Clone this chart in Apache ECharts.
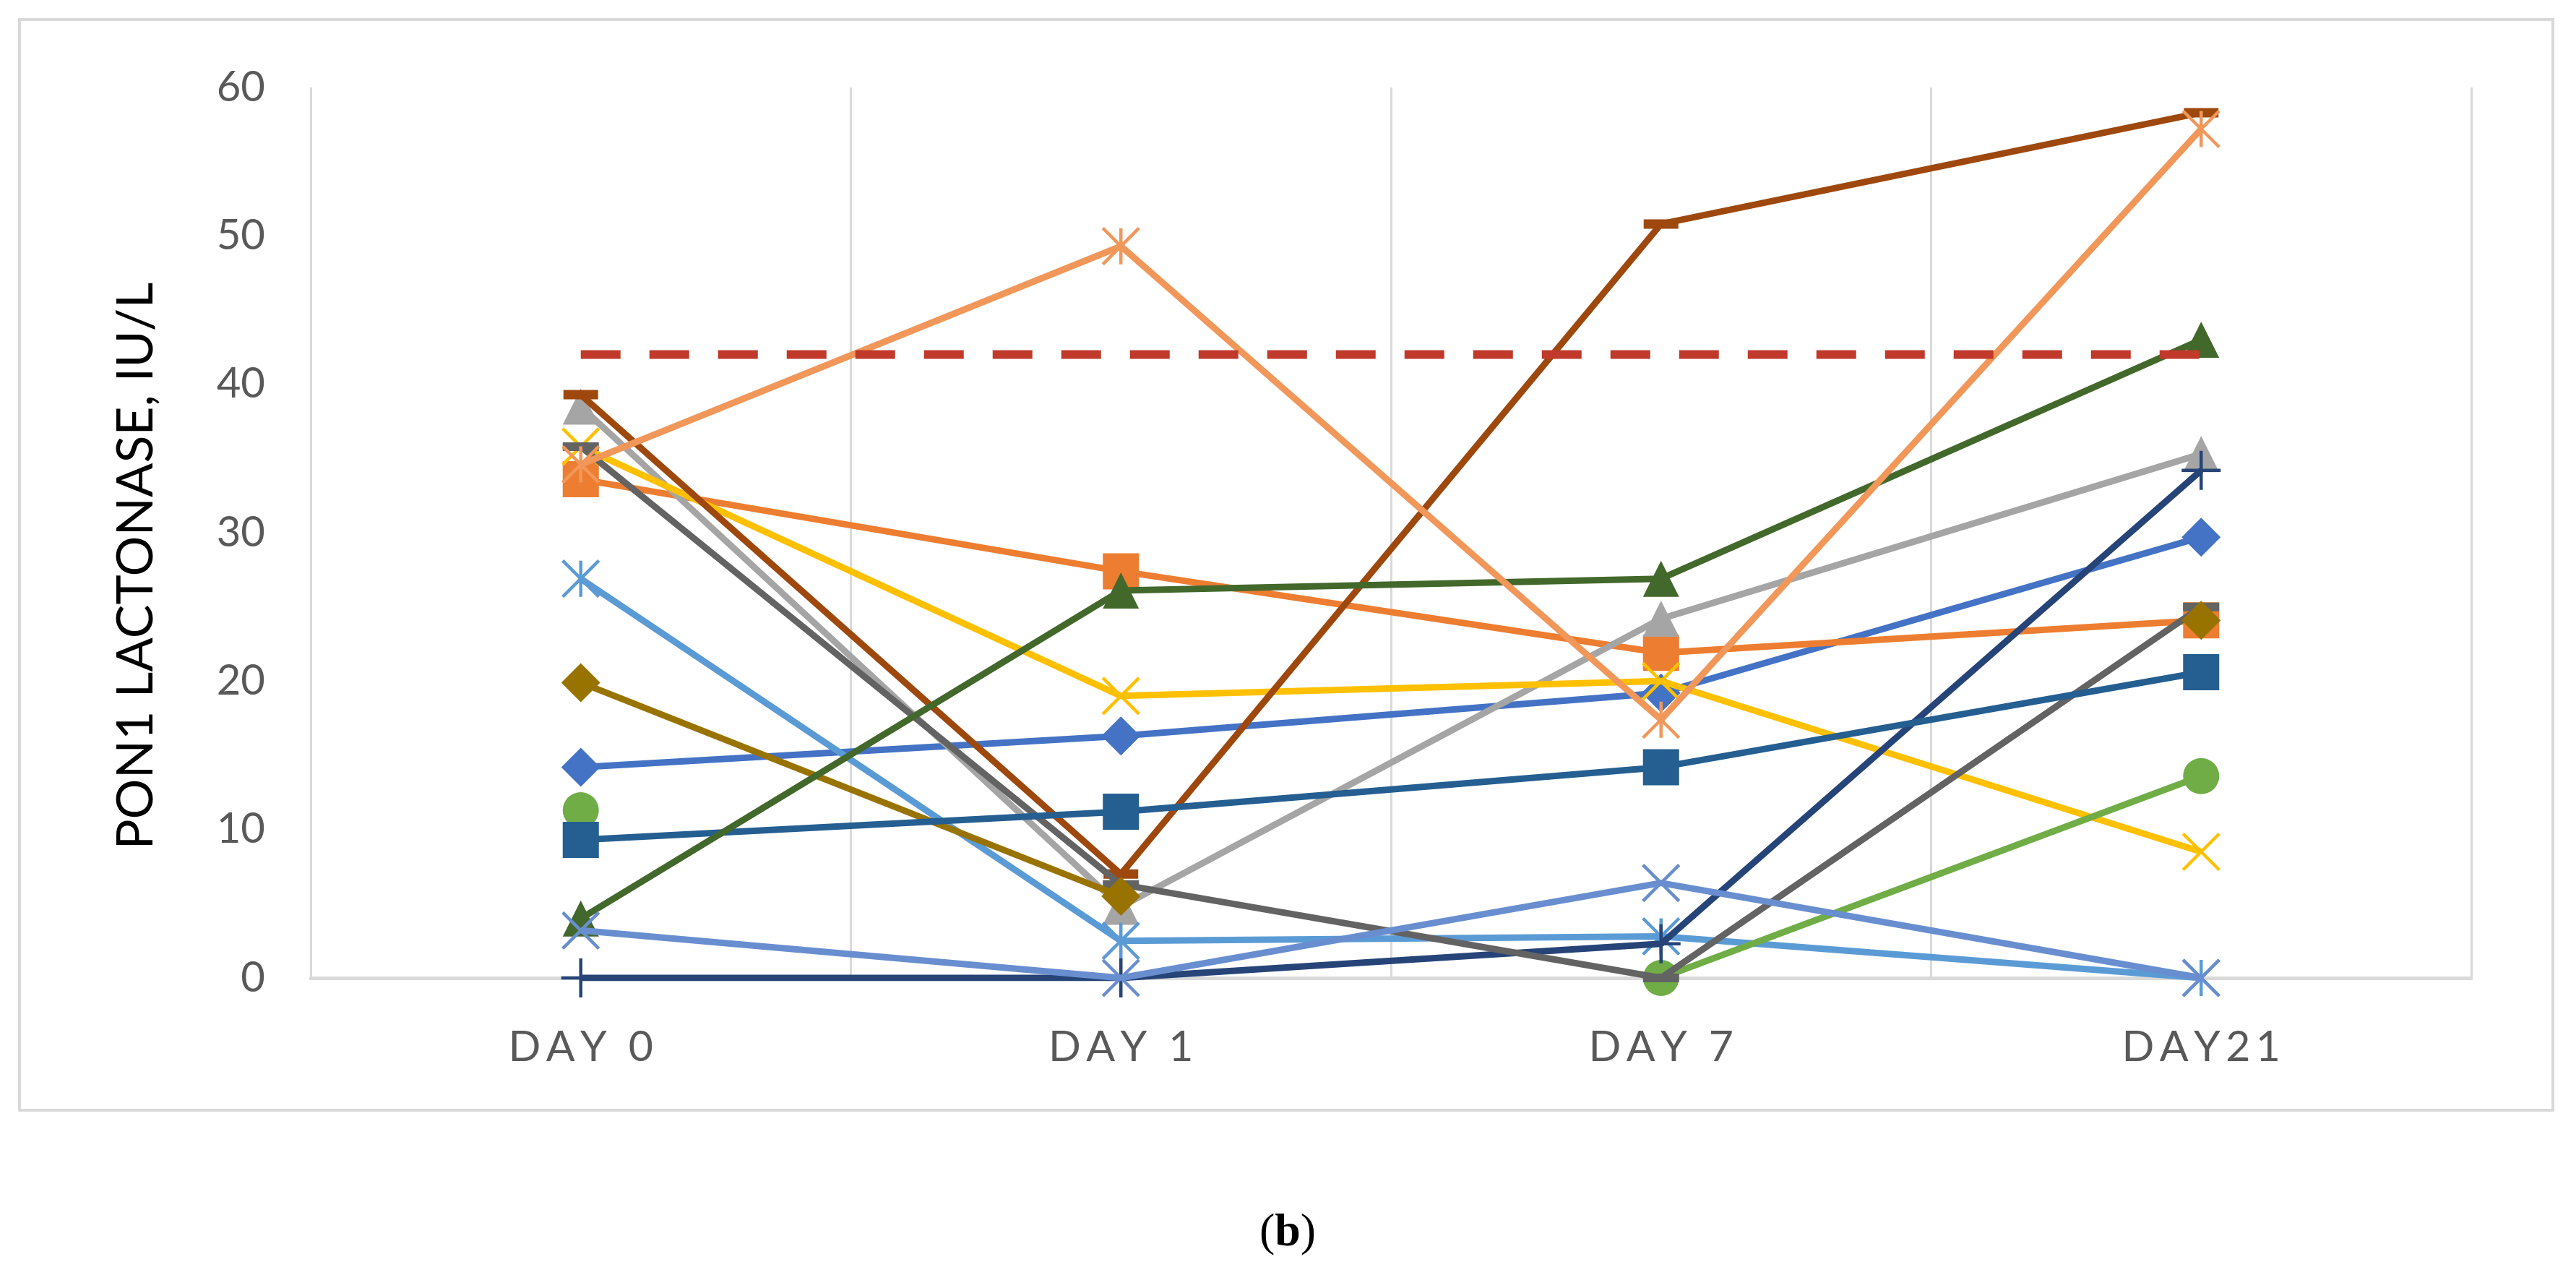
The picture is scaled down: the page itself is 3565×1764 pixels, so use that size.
<!DOCTYPE html>
<html>
<head>
<meta charset="utf-8">
<title>PON1 lactonase</title>
<script src="https://cdn.jsdelivr.net/npm/echarts@6/dist/echarts.min.js"></script>
<style>
  html, body { margin: 0; padding: 0; background: #fff; }
  #chart { width: 3565px; height: 1764px; }
</style>
</head>
<body>
<div id="chart"></div>
<script>
// categories
var days = ['DAY 0', 'DAY 1', 'DAY 7', 'DAY21'];

var p1  = [14.2, 16.3, 19.2, 29.7];
var p2  = [33.6, 27.4, 21.9, 24.1];
var p3  = [38.5, 4.8, 24.2, 35.3];
var p4  = [35.8, 19.0, 20.0, 8.5];
var p5  = [26.9, 2.5, 2.8, 0];
var p6  = [11.3, null, 0, 13.6];
var p7  = [0, 0, 2.3, 34.2];
var p8  = [39.3, 7.0, 50.8, 58.3];
var p9  = [35.8, 6.3, 0, 25.0];
var p10 = [19.9, 5.5, null, 24.1];
var p11 = [9.3, 11.2, 14.2, 20.6];
var p12 = [4.0, 26.1, 26.9, 43.0];
var p13 = [3.2, 0, 6.4, 0];
var p14 = [34.6, 49.3, 17.4, 57.2];
var refLine = [42, 42, 42, 42];

var patients = [p1, p2, p3, p4, p5, p6, p7, p8, p9, p10, p11, p12, p13, p14];

var colors = ['#4472C4', '#ED7D31', '#A5A5A5', '#FFC000', '#5B9BD5', '#70AD47', '#264478',
              '#9E480E', '#636363', '#997300', '#255E91', '#43682B', '#698ED0', '#F1975A'];

// excel style marker cycle
var X_PATH = 'path://M0,0L10,10M10,0L0,10';
var STAR_PATH = 'path://M0,0L10,10M10,0L0,10M5,0L5,10';
var PLUS_PATH = 'path://M5,0L5,10M0,5L10,5';

var markers = [
    {symbol: 'diamond', size: 54},
    {symbol: 'rect', size: 50},
    {symbol: 'triangle', size: 50},
    {symbol: X_PATH, size: 50, stroke: true},
    {symbol: STAR_PATH, size: 50, stroke: true},
    {symbol: 'circle', size: 50},
    {symbol: PLUS_PATH, size: 54, stroke: true},
    {symbol: 'rect', size: [48, 13]},
    {symbol: 'rect', size: [50, 12]}
];

function makeSeries(data, i) {
    var m = markers[i % markers.length];
    var c = colors[i];
    var item = m.stroke
        ? {color: 'rgba(0,0,0,0)', borderColor: c, borderWidth: 4.5}
        : {color: c, borderWidth: 0};
    return {
        name: 'Patient ' + (i + 1),
        type: 'line',
        data: data,
        symbol: m.symbol,
        symbolSize: m.size,
        showAllSymbol: true,
        connectNulls: false,
        lineStyle: {color: c, width: 9},
        itemStyle: item,
        emphasis: {disabled: true},
        z: 2 + i * 0.01
    };
}

var series = patients.map(makeSeries);
series.push({
    name: 'reference',
    type: 'line',
    data: refLine,
    symbol: 'none',
    lineStyle: {color: '#C0392B', width: 12, type: [55, 40]},
    z: 3
});

var chart = echarts.init(document.getElementById('chart'));
chart.setOption({
    animation: false,
    backgroundColor: '#fff',
    grid: {left: 430, right: 145, top: 121, bottom: 411, containLabel: false},
    xAxis: {
        type: 'category',
        data: days,
        boundaryGap: true,
        axisLine: {show: true, lineStyle: {color: '#D9D9D9', width: 5}},
        axisTick: {show: false},
        splitLine: {show: true, lineStyle: {color: '#D9D9D9', width: 3}},
        axisLabel: {
            margin: 66,
            color: '#595959',
            fontFamily: 'Lato',
            fontSize: 59,
            formatter: function (v) { return v.split('').join('\u2009'); }
        }
    },
    yAxis: {
        type: 'value',
        min: 0,
        max: 60,
        interval: 10,
        axisLine: {show: false},
        axisTick: {show: false},
        splitLine: {show: false},
        axisLabel: {margin: 63, color: '#595959', fontFamily: 'Lato', fontSize: 58}
    },
    graphic: [
        {
            type: 'rect',
            shape: {x: 27, y: 27, width: 3506, height: 1509},
            style: {fill: 'none', stroke: '#D9D9D9', lineWidth: 4},
            silent: true
        },
        {
            type: 'text',
            x: 188,
            y: 783,
            rotation: Math.PI / 2,
            style: {
                text: 'PON1 LACTONASE, IU/L',
                fill: '#000',
                font: '70px Lato',
                textAlign: 'center',
                textVerticalAlign: 'middle',
                align: 'center',
                verticalAlign: 'middle'
            },
            silent: true
        },
        {
            type: 'text',
            x: 1782,
            y: 1706,
            style: {
                text: '({b|b})',
                fill: '#000',
                font: '64px "Liberation Serif"',
                textAlign: 'center',
                textVerticalAlign: 'middle',
                align: 'center',
                verticalAlign: 'middle',
                rich: {b: {fontWeight: 'bold', fontSize: 64, fontFamily: 'Liberation Serif', fill: '#000'}}
            },
            silent: true
        }
    ],
    series: series
});
</script>
</body>
</html>
